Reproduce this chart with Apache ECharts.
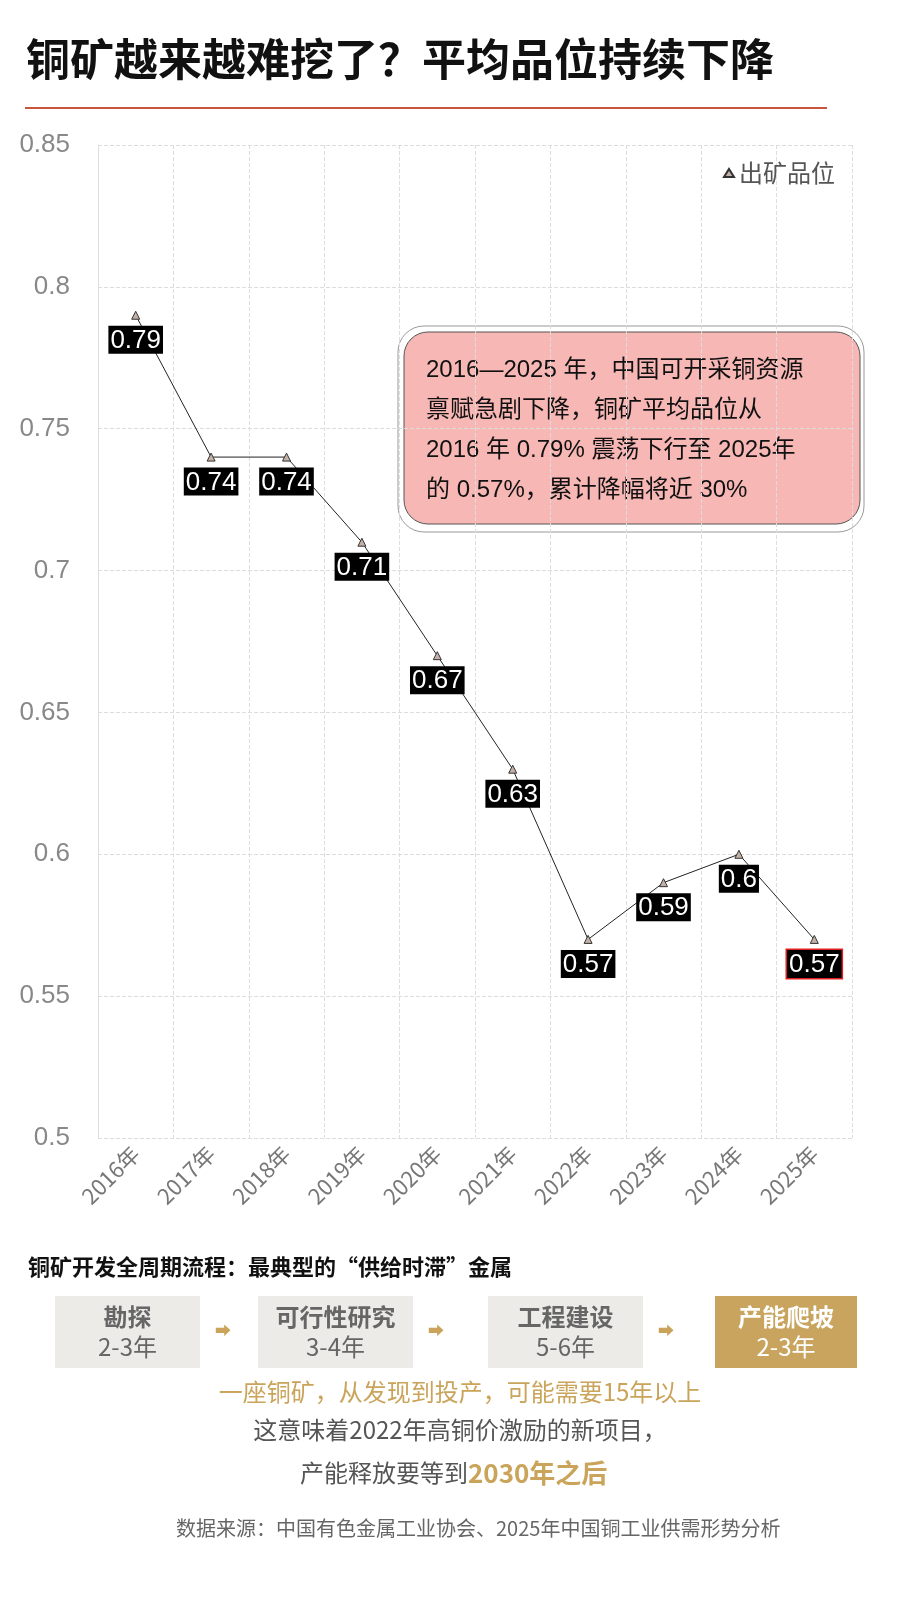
<!DOCTYPE html>
<html><head><meta charset="utf-8">
<script src="https://cdn.jsdelivr.net/npm/echarts@6/dist/echarts.min.js"></script>
<style>body{margin:0;background:#fff}#c{width:900px;height:1600px}</style>
</head><body><div id="c"></div>
<script>
var years = ['2016年','2017年','2018年','2019年','2020年','2021年','2022年','2023年','2024年','2025年'];
var grade = [0.79, 0.74, 0.74, 0.71, 0.67, 0.63, 0.57, 0.59, 0.6, 0.57];
var seriesName = '出矿品位';
var steps = [['勘探','2-3年'],['可行性研究','3-4年'],['工程建设','5-6年'],['产能爬坡','2-3年']];

var font = '"Noto Sans CJK SC","Noto Sans",sans-serif';
var mixFont = '"Liberation Sans","Noto Sans CJK SC",sans-serif';
var chart = echarts.init(document.getElementById('c'));

var g = [
	{type:'text', left:26, top:37, style:{text:'铜矿越来越难挖了？平均品位持续下降', font:'bold 44px '+font, fill:'#111'}},
	{type:'rect', shape:{x:25,y:107,width:802,height:2}, style:{fill:'#c8553d'}},
	// 注释框
	{type:'rect', shape:{x:398,y:326,width:466,height:206,r:26}, style:{fill:'#fff',stroke:'#999',lineWidth:1}},
	{type:'rect', shape:{x:404,y:332,width:456,height:192,r:24}, style:{fill:'#f7b7b5',stroke:'#555',lineWidth:1}},
	{type:'text', left:426, top:350, style:{text:'2016—2025 年，中国可开采铜资源\n禀赋急剧下降，铜矿平均品位从\n2016 年 0.79% 震荡下行至 2025年\n的 0.57%，累计降幅将近 30%', font:'24px '+mixFont, fill:'#111', lineHeight:40}},
	{type:'text', left:28, top:1256, style:{text:'铜矿开发全周期流程：最典型的“供给时滞”金属', font:'bold 22px '+font, fill:'#111'}},
	{type:'text', x:460, y:1380, style:{text:'一座铜矿，从发现到投产，可能需要15年以上', align:'center', font:'24px '+font, fill:'#c9a45a'}},
	{type:'text', x:460, y:1418, style:{text:'这意味着2022年高铜价激励的新项目，', align:'center', font:'24px '+font, fill:'#555'}},
	{type:'text', left:300, top:1460, style:{rich:{a:{font:'24px '+font, fill:'#555'},b:{font:'bold 26px '+font, fill:'#c9a45a'}}, text:'{a|产能释放要等到}{b|2030年之后}'}},
	{type:'text', left:176, top:1518, style:{text:'数据来源：中国有色金属工业协会、2025年中国铜工业供需形势分析', font:'20px '+font, fill:'#666'}}
];
var boxX = [55, 258, 488, 715];
var boxW = [145, 155, 155, 142];
steps.forEach(function (s, i) {
	var last = i === steps.length - 1;
	g.push({type:'rect', shape:{x:boxX[i],y:1296,width:boxW[i],height:72}, style:{fill: last ? '#c8a45e' : '#ecebe7'}});
	g.push({type:'text', x:boxX[i]+boxW[i]/2, y:1302, style:{text:'{t|'+s[0]+'}\n{y|'+s[1]+'}', align:'center',
		rich:{t:{font:'bold 24px '+font, lineHeight:30, fill: last ? '#fff' : '#666'},
			y:{font:'24px '+font, lineHeight:30, fill: last ? '#fff' : '#666'}}}});
	if (!last) g.push({type:'text', x:boxX[i]+boxW[i]+23, y:1322, style:{text:'➡', align:'center', font:'16px '+font, fill:'#c9a45a'}});
});

chart.setOption({
	grid: {left:98, right:48, top:145, bottom:462},
	legend: {data:[seriesName], right:60, top:156, icon:'triangle', itemWidth:10, itemHeight:8,
		textStyle:{fontSize:24, color:'#555', fontFamily:font}},
	xAxis: {type:'category', data:years, boundaryGap:true,
		axisLine:{show:false}, axisTick:{show:false},
		splitLine:{show:true, lineStyle:{color:'#ddd', type:'dashed'}},
		axisLabel:{rotate:45, fontSize:22, color:'#777', fontFamily:font, margin:12}},
	yAxis: {type:'value', min:0.5, max:0.85, interval:0.05,
		axisLine:{show:true, lineStyle:{color:'#ddd'}},
		splitLine:{lineStyle:{color:'#ddd', type:'dashed'}},
		axisLabel:{fontSize:26, color:'#888', fontFamily:'"Liberation Sans",Arial,sans-serif', margin:28,
			formatter:function (v) { return +v.toFixed(2) + ''; }}},
	series: [{
		name: seriesName, type:'line', data: grade.map(function (v, i) {
			var d = {value:v};
			if (i === grade.length - 1) d.label = {borderColor:'#e02020', borderWidth:1.5};
			return d;
		}),
		symbol:'triangle', symbolSize:8,
		itemStyle:{color:'#c4b0a6', borderColor:'#333', borderWidth:1},
		lineStyle:{color:'#222', width:1},
		label:{show:true, position:'bottom', distance:6, backgroundColor:'#000', color:'#fff',
			fontSize:26, fontFamily:'"Liberation Sans",Arial,sans-serif', padding:[2,2,0,2]}
	}],
	graphic: g
});
</script></body></html>
